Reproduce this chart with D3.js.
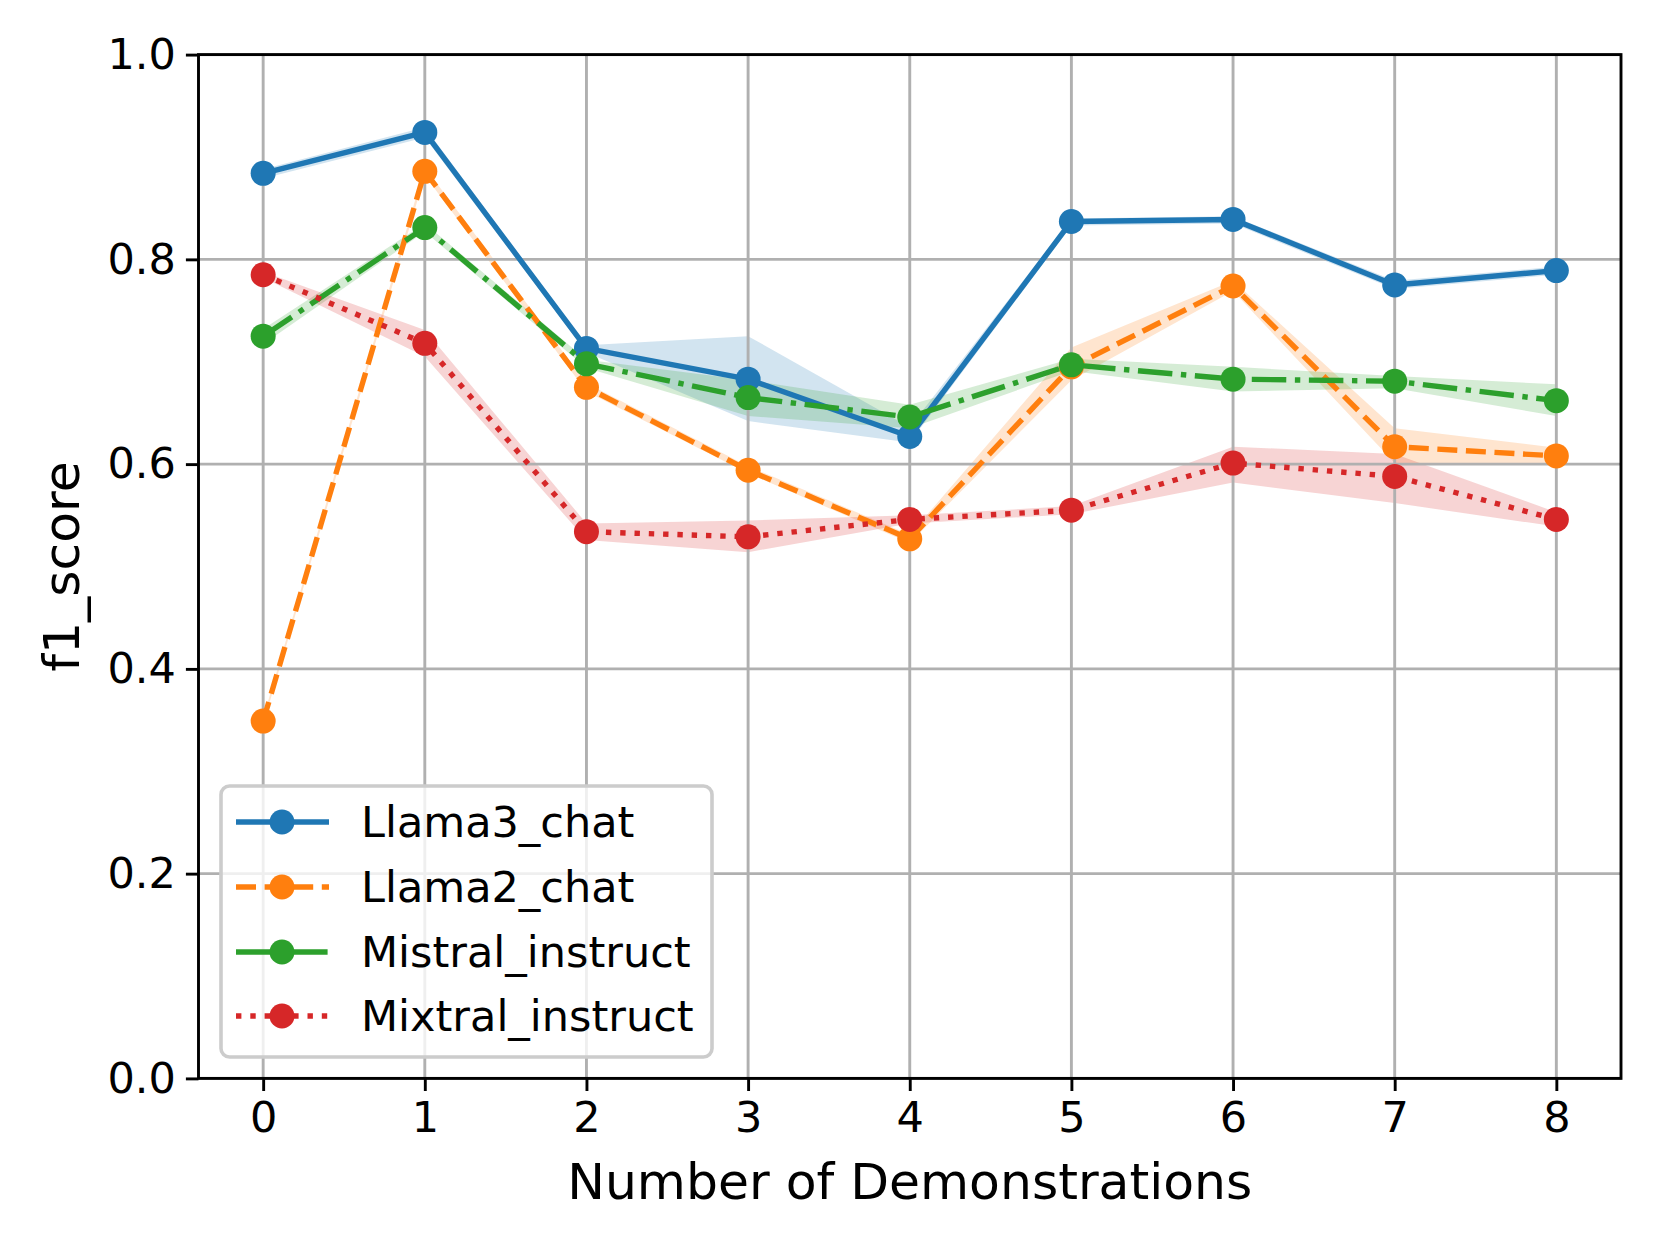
<!DOCTYPE html>
<html lang="en">

<head>
    <meta charset="utf-8">
    <script src="https://d3js.org/d3.v7.min.js"></script>
    <style>
        body { margin: 0; background: #fff; }
        text { font-family: "DejaVu Sans", sans-serif; }
    </style>
</head>

<body>
    <div class="chart"></div>

    <script>
        // Data
        const demos = [0, 1, 2, 3, 4, 5, 6, 7, 8];
        const yTicks = [0, 0.2, 0.4, 0.6, 0.8, 1.0];

        const llama3 = [0.884, 0.924, 0.713, 0.683, 0.627, 0.837, 0.839, 0.775, 0.789];
        const llama3Lo = [0.879, 0.919, 0.709, 0.642, 0.621, 0.833, 0.835, 0.771, 0.785];
        const llama3Hi = [0.888, 0.929, 0.716, 0.725, 0.636, 0.840, 0.842, 0.779, 0.793];

        const llama2 = [0.349, 0.886, 0.675, 0.594, 0.527, 0.695, 0.774, 0.617, 0.608];
        const llama2Lo = [0.346, 0.882, 0.671, 0.591, 0.523, 0.682, 0.769, 0.601, 0.600];
        const llama2Hi = [0.352, 0.890, 0.679, 0.598, 0.531, 0.714, 0.779, 0.635, 0.616];

        const mistral = [0.725, 0.831, 0.698, 0.665, 0.646, 0.697, 0.683, 0.681, 0.662];
        const mistralLo = [0.717, 0.827, 0.694, 0.647, 0.635, 0.691, 0.671, 0.674, 0.647];
        const mistralHi = [0.732, 0.835, 0.702, 0.682, 0.658, 0.703, 0.695, 0.686, 0.678];

        const mixtral = [0.785, 0.718, 0.534, 0.529, 0.546, 0.555, 0.601, 0.588, 0.546];
        const mixtralLo = [0.782, 0.705, 0.526, 0.514, 0.542, 0.551, 0.582, 0.562, 0.539];
        const mixtralHi = [0.788, 0.731, 0.542, 0.545, 0.550, 0.559, 0.617, 0.610, 0.553];

        const series = [
            { name: "Llama3_chat", values: llama3, lo: llama3Lo, hi: llama3Hi, color: "#1f77b4", dash: null },
            { name: "Llama2_chat", values: llama2, lo: llama2Lo, hi: llama2Hi, color: "#ff7f0e", dash: "20,8.6" },
            { name: "Mistral_instruct", values: mistral, lo: mistralLo, hi: mistralHi, color: "#2ca02c", dash: "34.5,8.6,5.4,8.6" },
            { name: "Mixtral_instruct", values: mixtral, lo: mixtralLo, hi: mixtralHi, color: "#d62728", dash: "5.4,8.9" }
        ];

        // Set Dimensions
        const width = 1660;
        const height = 1245;
        const plotL = 198.5, plotR = 1621, plotT = 54.6, plotB = 1078.4;

        const svg = d3.select(".chart")
            .append("svg")
            .attr("width", width)
            .attr("height", height);

        const x = d3.scaleLinear().domain([-0.4, 8.4]).range([plotL, plotR]);
        const y = d3.scaleLinear().domain([0, 1]).range([plotB, plotT]);

        // bands (fill_between) under everything
        series.forEach(s => {
            svg.append("path")
                .datum(demos)
                .attr("fill", s.color)
                .attr("fill-opacity", 0.2)
                .attr("d", d3.area()
                    .x(d => x(d))
                    .y0(d => y(s.lo[d]))
                    .y1(d => y(s.hi[d])));
        });

        // grid
        svg.append("g")
            .selectAll("line")
            .data(demos)
            .enter()
            .append("line")
            .attr("x1", d => x(d)).attr("x2", d => x(d))
            .attr("y1", plotT).attr("y2", plotB)
            .attr("stroke", "#b0b0b0").attr("stroke-width", 2.9);
        svg.append("g")
            .selectAll("line")
            .data(yTicks)
            .enter()
            .append("line")
            .attr("x1", plotL).attr("x2", plotR)
            .attr("y1", d => y(d)).attr("y2", d => y(d))
            .attr("stroke", "#b0b0b0").attr("stroke-width", 2.9);

        // lines + markers
        series.forEach(s => {
            svg.append("path")
                .datum(demos)
                .attr("fill", "none")
                .attr("stroke", s.color)
                .attr("stroke-width", 5.4)
                .attr("stroke-dasharray", s.dash)
                .attr("stroke-linejoin", "round")
                .attr("d", d3.line()
                    .x(d => x(d))
                    .y(d => y(s.values[d])));
            svg.append("g")
                .selectAll("circle")
                .data(demos)
                .enter()
                .append("circle")
                .attr("cx", d => x(d)).attr("cy", d => y(s.values[d])).attr("r", 12.5)
                .attr("fill", s.color);
        });

        // axes
        const xAxis = svg.append("g")
            .attr("transform", "translate(0," + plotB + ")")
            .call(d3.axisBottom(x).tickValues(demos).tickFormat(d3.format("d"))
                .tickSize(12.6).tickPadding(10).tickSizeOuter(0));
        const yAxis = svg.append("g")
            .attr("transform", "translate(" + plotL + ",0)")
            .call(d3.axisLeft(y).tickValues(yTicks).tickFormat(d3.format(".1f"))
                .tickSize(12.6).tickPadding(10).tickSizeOuter(0));
        [xAxis, yAxis].forEach(a => {
            a.select(".domain").remove();
            a.selectAll(".tick line").attr("stroke", "#000").attr("stroke-width", 2.9);
            a.selectAll(".tick text").attr("font-size", 43).attr("fill", "#000")
                .style("font-family", "DejaVu Sans");
        });

        // frame
        svg.append("rect")
            .attr("x", plotL).attr("y", plotT)
            .attr("width", plotR - plotL).attr("height", plotB - plotT)
            .attr("fill", "none").attr("stroke", "#000").attr("stroke-width", 2.9);

        // axis labels
        svg.append("text")
            .attr("x", (plotL + plotR) / 2).attr("y", 1199)
            .attr("text-anchor", "middle")
            .attr("font-size", 50.4)
            .text("Number of Demonstrations");
        svg.append("text")
            .attr("transform", "translate(79," + (plotT + plotB) / 2 + ") rotate(-90)")
            .attr("text-anchor", "middle")
            .attr("font-size", 50.4)
            .text("f1_score");

        // legend
        const legend = svg.append("g");
        legend.append("rect")
            .attr("x", 221).attr("y", 786)
            .attr("width", 491).attr("height", 271)
            .attr("rx", 8.6)
            .attr("fill", "#fff").attr("fill-opacity", 0.8)
            .attr("stroke", "#cccccc").attr("stroke-width", 3.6);
        const rowY = [822, 887, 952, 1016];
        series.forEach((s, i) => {
            legend.append("line")
                .attr("x1", 236).attr("x2", 329)
                .attr("y1", rowY[i]).attr("y2", rowY[i])
                .attr("stroke", s.color).attr("stroke-width", 5.4)
                .attr("stroke-dasharray", s.dash);
            legend.append("circle")
                .attr("cx", 282).attr("cy", rowY[i]).attr("r", 12.5)
                .attr("fill", s.color);
            legend.append("text")
                .attr("x", 361).attr("y", rowY[i])
                .attr("dy", "0.36em")
                .attr("font-size", 43)
                .text(s.name);
        });
    </script>
</body>

</html>
